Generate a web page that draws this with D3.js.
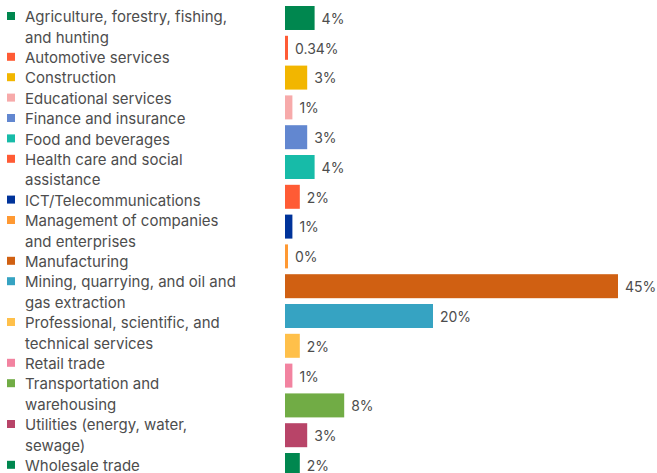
<!DOCTYPE html>
<html>
<head>
<meta charset="utf-8">
<script src="https://cdn.jsdelivr.net/npm/d3@7"></script>
<style>
  html, body { margin: 0; padding: 0; background: #fff; overflow: hidden; }
  svg { display: block; font-family: Inter, "Noto Sans", sans-serif; }
</style>
</head>
<body>
<svg id="chart" width="657" height="473"></svg>
<script>
// Share of total by industry sector
const categories = [
  "Agriculture, forestry, fishing, and hunting",
  "Automotive services",
  "Construction",
  "Educational services",
  "Finance and insurance",
  "Food and beverages",
  "Health care and social assistance",
  "ICT/Telecommunications",
  "Management of companies and enterprises",
  "Manufacturing",
  "Mining, quarrying, and oil and gas extraction",
  "Professional, scientific, and technical services",
  "Retail trade",
  "Transportation and warehousing",
  "Utilities (energy, water, sewage)",
  "Wholesale trade"
];
const values = [4, 0.34, 3, 1, 3, 4, 2, 1, 0, 45, 20, 2, 1, 8, 3, 2];
const valueLabels = ["4%", "0.34%", "3%", "1%", "3%", "4%", "2%", "1%", "0%", "45%", "20%", "2%", "1%", "8%", "3%", "2%"];
const colors = [
  "#00874f", "#ff5b35", "#f2b600", "#f7aaaa", "#6287d0", "#17bba8",
  "#ff5b35", "#00339a", "#ff9933", "#d06012", "#36a3c2", "#ffc04a",
  "#f283a0", "#71ac45", "#b84468", "#00874f"
];

const svg = d3.select("#chart");
const textColor = "#4d4d4d";

// Bars
const barLeft = 285;
const x = d3.scaleLinear().domain([0, 45]).range([0, 333]);
const y = d3.scaleBand().domain(categories).range([6, 477]).paddingInner(0.195).paddingOuter(0);
const minBar = 3;

const bars = svg.append("g");
bars.selectAll("rect")
  .data(categories)
  .join("rect")
  .attr("x", barLeft)
  .attr("y", d => y(d))
  .attr("height", y.bandwidth())
  .attr("width", (d, i) => Math.max(minBar, x(values[i])))
  .attr("fill", (d, i) => colors[i]);

bars.selectAll("text")
  .data(categories)
  .join("text")
  .attr("x", (d, i) => barLeft + Math.max(minBar, x(values[i])) + 7)
  .attr("y", d => y(d) + y.bandwidth() / 2 + 1)
  .attr("dy", "0.35em")
  .attr("fill", textColor)
  .style("font-size", "14px")
  .text((d, i) => valueLabels[i]);

// Legend with wrapped labels
const legend = svg.append("g");
const lineH = 20.4;
const maxW = 214;
let line = 0;
categories.forEach((c, i) => {
  const top = 17 + line * lineH;
  legend.append("rect")
    .attr("x", 7).attr("y", top - 5)
    .attr("width", 8).attr("height", 8)
    .attr("fill", colors[i]);
  const t = legend.append("text")
    .attr("fill", textColor)
    .style("font-size", "15px");
  const words = c.split(" ");
  let cur = [];
  let tspan = t.append("tspan").attr("x", 25).attr("y", top).attr("dy", "0.35em");
  words.forEach(w => {
    cur.push(w);
    tspan.text(cur.join(" "));
    if (tspan.node().getComputedTextLength() > maxW && cur.length > 1) {
      cur.pop();
      tspan.text(cur.join(" "));
      cur = [w];
      line += 1;
      tspan = t.append("tspan").attr("x", 25).attr("y", 17 + line * lineH).attr("dy", "0.35em").text(w);
    }
  });
  line += 1;
});
</script>
</body>
</html>
